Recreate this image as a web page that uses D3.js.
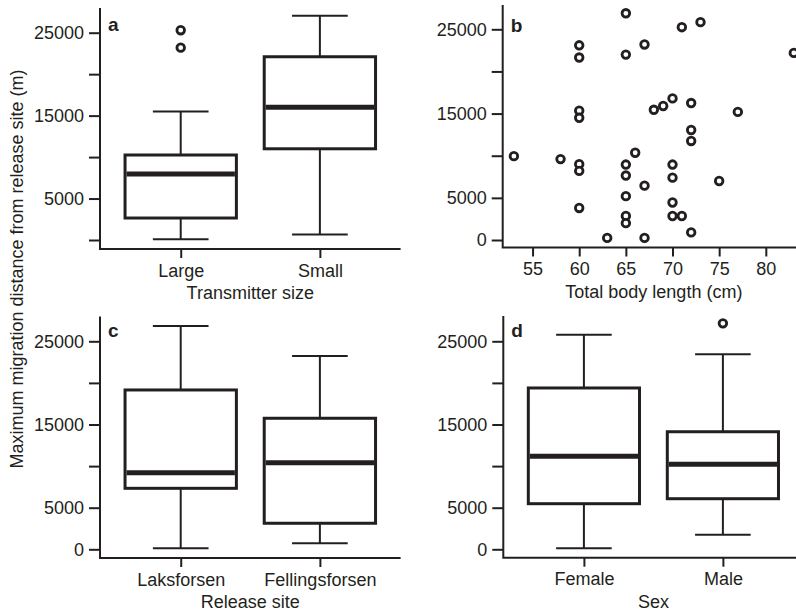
<!DOCTYPE html>
<html><head><meta charset="utf-8">
<script src="https://cdn.jsdelivr.net/npm/d3@7"></script>
<style>
body{margin:0;background:#fff}
svg{display:block}
text{font-family:"Liberation Sans",Arial,Helvetica,sans-serif;fill:#231f20}
</style>
</head><body>
<svg id="chart" width="796" height="615"></svg>
<script>
// ---------------- data ----------------
const yTicks = [0, 5000, 10000, 15000, 20000, 25000];
const yLabelsA = [5000, 15000, 25000];
const yLabelsOther = [0, 5000, 15000, 25000];

// panel a: transmitter size  [lower whisker, Q1, median, Q3, upper whisker]
const sizeCategories = ["Large", "Small"];
const sizeStats = [[100, 2650, 7960, 10250, 15500], [650, 11000, 16000, 22100, 27050]];
const sizeOutliers = [[25300, 23200], []];

// panel b: body length vs distance
const lengthTicks = [55, 60, 65, 70, 75, 80];
const lengthValues = [65, 73, 71, 60, 67, 60, 65, 83, 70, 72, 69, 68, 60, 60, 77, 72, 72, 53, 58, 66,
                      60, 60, 65, 70, 65, 70, 67, 75, 65, 60, 70, 65, 65, 70, 71, 72, 63, 67];
const distanceValues = [26900, 25850, 25250, 23100, 23200, 21650, 22000, 22200, 16800, 16250, 15900, 15450,
                        15350, 14500, 15200, 13050, 11750, 9950, 9600, 10350, 9000, 8200, 8950, 8950,
                        7650, 7400, 6450, 7000, 5200, 3800, 4450, 2850, 2000, 2850, 2850, 900, 250, 250];

// panel c: release site
const siteCategories = ["Laksforsen", "Fellingsforsen"];
const siteStats = [[120, 7330, 9210, 19150, 26840], [720, 3130, 10410, 15750, 23230]];
const siteOutliers = [[], []];

// panel d: sex
const sexCategories = ["Female", "Male"];
const sexStats = [[120, 5480, 11180, 19390, 25790], [1750, 6080, 10220, 14130, 23440]];
const sexOutliers = [[], [27160]];

// ---------------- drawing ----------------
const svg = d3.select("#chart");
const INK = "#231f20";
const FS = 18;

function panel(opt) {
  const g = svg.append("g");
  const y = d3.scaleLinear().domain([0, 25000]).range([opt.y0, opt.y25]);
  const x = d3.scaleLinear().domain(opt.xDomain).range([opt.left, opt.right]);

  const ya = g.append("g").attr("transform", `translate(${opt.left},0)`)
    .call(d3.axisLeft(y).tickValues(yTicks).tickSize(11).tickPadding(5)
      .tickFormat(d => opt.yLabels.includes(d) ? d : ""));
  ya.select(".domain").remove();
  ya.selectAll(".tick line").attr("stroke", INK).attr("stroke-width", 2);
  ya.selectAll(".tick text").attr("font-size", FS).attr("font-family", null).style("fill", INK);

  const xa = g.append("g").attr("transform", `translate(0,${opt.bottom})`)
    .call(d3.axisBottom(x).tickValues(opt.xTicks).tickSize(9).tickPadding(6)
      .tickFormat(opt.xFormat));
  xa.select(".domain").remove();
  xa.selectAll(".tick line").attr("stroke", INK).attr("stroke-width", 2);
  xa.selectAll(".tick text").attr("font-size", FS).attr("font-family", null).style("fill", INK);

  g.append("path")
    .attr("d", `M${opt.left},${opt.top}V${opt.bottom}H${opt.right}`)
    .attr("fill", "none").attr("stroke", INK).attr("stroke-width", 2);

  g.append("text").attr("x", (opt.left + opt.right) / 2).attr("y", opt.bottom + 50)
    .attr("text-anchor", "middle").attr("font-size", FS).text(opt.title);

  g.append("text").attr("x", opt.left + 8).attr("y", opt.letterY)
    .style("font-size", "19px").style("font-weight", "bold").text(opt.letter);

  return {g, x, y};
}

function boxes(p, stats, outliers) {
  const {g, x, y} = p;
  stats.forEach((s, i) => {
    const c = i + 1;
    const [lo, q1, med, q3, hi] = s;
    const bg = g.append("g");
    bg.append("line").attr("x1", x(c)).attr("x2", x(c)).attr("y1", y(q3)).attr("y2", y(hi))
      .attr("stroke", INK).attr("stroke-width", 2);
    bg.append("line").attr("x1", x(c)).attr("x2", x(c)).attr("y1", y(q1)).attr("y2", y(lo))
      .attr("stroke", INK).attr("stroke-width", 2);
    [lo, hi].forEach(v => bg.append("line").attr("x1", x(c - 0.2)).attr("x2", x(c + 0.2))
      .attr("y1", y(v)).attr("y2", y(v)).attr("stroke", INK).attr("stroke-width", 2));
    bg.append("rect").attr("x", x(c - 0.4)).attr("width", x(c + 0.4) - x(c - 0.4))
      .attr("y", y(q3)).attr("height", y(q1) - y(q3))
      .attr("fill", "#fff").attr("stroke", INK).attr("stroke-width", 3);
    bg.append("line").attr("x1", x(c - 0.4) + 1.5).attr("x2", x(c + 0.4) - 1.5)
      .attr("y1", y(med)).attr("y2", y(med)).attr("stroke", INK).attr("stroke-width", 5);
    bg.selectAll("circle.o").data(outliers[i]).join("circle").attr("class", "o")
      .attr("cx", x(c)).attr("cy", d => y(d)).attr("r", 3.8)
      .attr("fill", "#fff").attr("stroke", INK).attr("stroke-width", 2.8);
  });
}

const boxDomain = [0.42, 2.58];

const pa = panel({left: 100, right: 400.6, top: 8, bottom: 249, y0: 240, y25: 32.7,
  xDomain: boxDomain, xTicks: [1, 2], xFormat: d => sizeCategories[d - 1],
  yLabels: yLabelsA, title: "Transmitter size", letter: "a", letterY: 31});
boxes(pa, sizeStats, sizeOutliers);

const lenExt = d3.extent(lengthValues);
const lenPad = (lenExt[1] - lenExt[0]) * 0.04;
const pb = panel({left: 502.7, right: 805, top: 5, bottom: 247.5, y0: 240, y25: 29.3,
  xDomain: [lenExt[0] - lenPad, lenExt[1] + lenPad], xTicks: lengthTicks, xFormat: d => d,
  yLabels: yLabelsOther, title: "Total body length (cm)", letter: "b", letterY: 32});
pb.g.selectAll("circle.pt").data(lengthValues).join("circle").attr("class", "pt")
  .attr("cx", d => pb.x(d)).attr("cy", (d, i) => pb.y(distanceValues[i])).attr("r", 3.8)
  .attr("fill", "#fff").attr("stroke", INK).attr("stroke-width", 2.8);

const pc = panel({left: 100, right: 400.6, top: 316.5, bottom: 558, y0: 549.3, y25: 341.3,
  xDomain: boxDomain, xTicks: [1, 2], xFormat: d => siteCategories[d - 1],
  yLabels: yLabelsOther, title: "Release site", letter: "c", letterY: 337});
boxes(pc, siteStats, siteOutliers);

const pd = panel({left: 503.3, right: 803.5, top: 316, bottom: 557.7, y0: 549.3, y25: 341.3,
  xDomain: boxDomain, xTicks: [1, 2], xFormat: d => sexCategories[d - 1],
  yLabels: yLabelsOther, title: "Sex", letter: "d", letterY: 337});
boxes(pd, sexStats, sexOutliers);

svg.append("text").attr("transform", "translate(23,269) rotate(-90)")
  .attr("text-anchor", "middle").attr("font-size", FS)
  .text("Maximum migration distance from release site (m)");
</script>
</body></html>
